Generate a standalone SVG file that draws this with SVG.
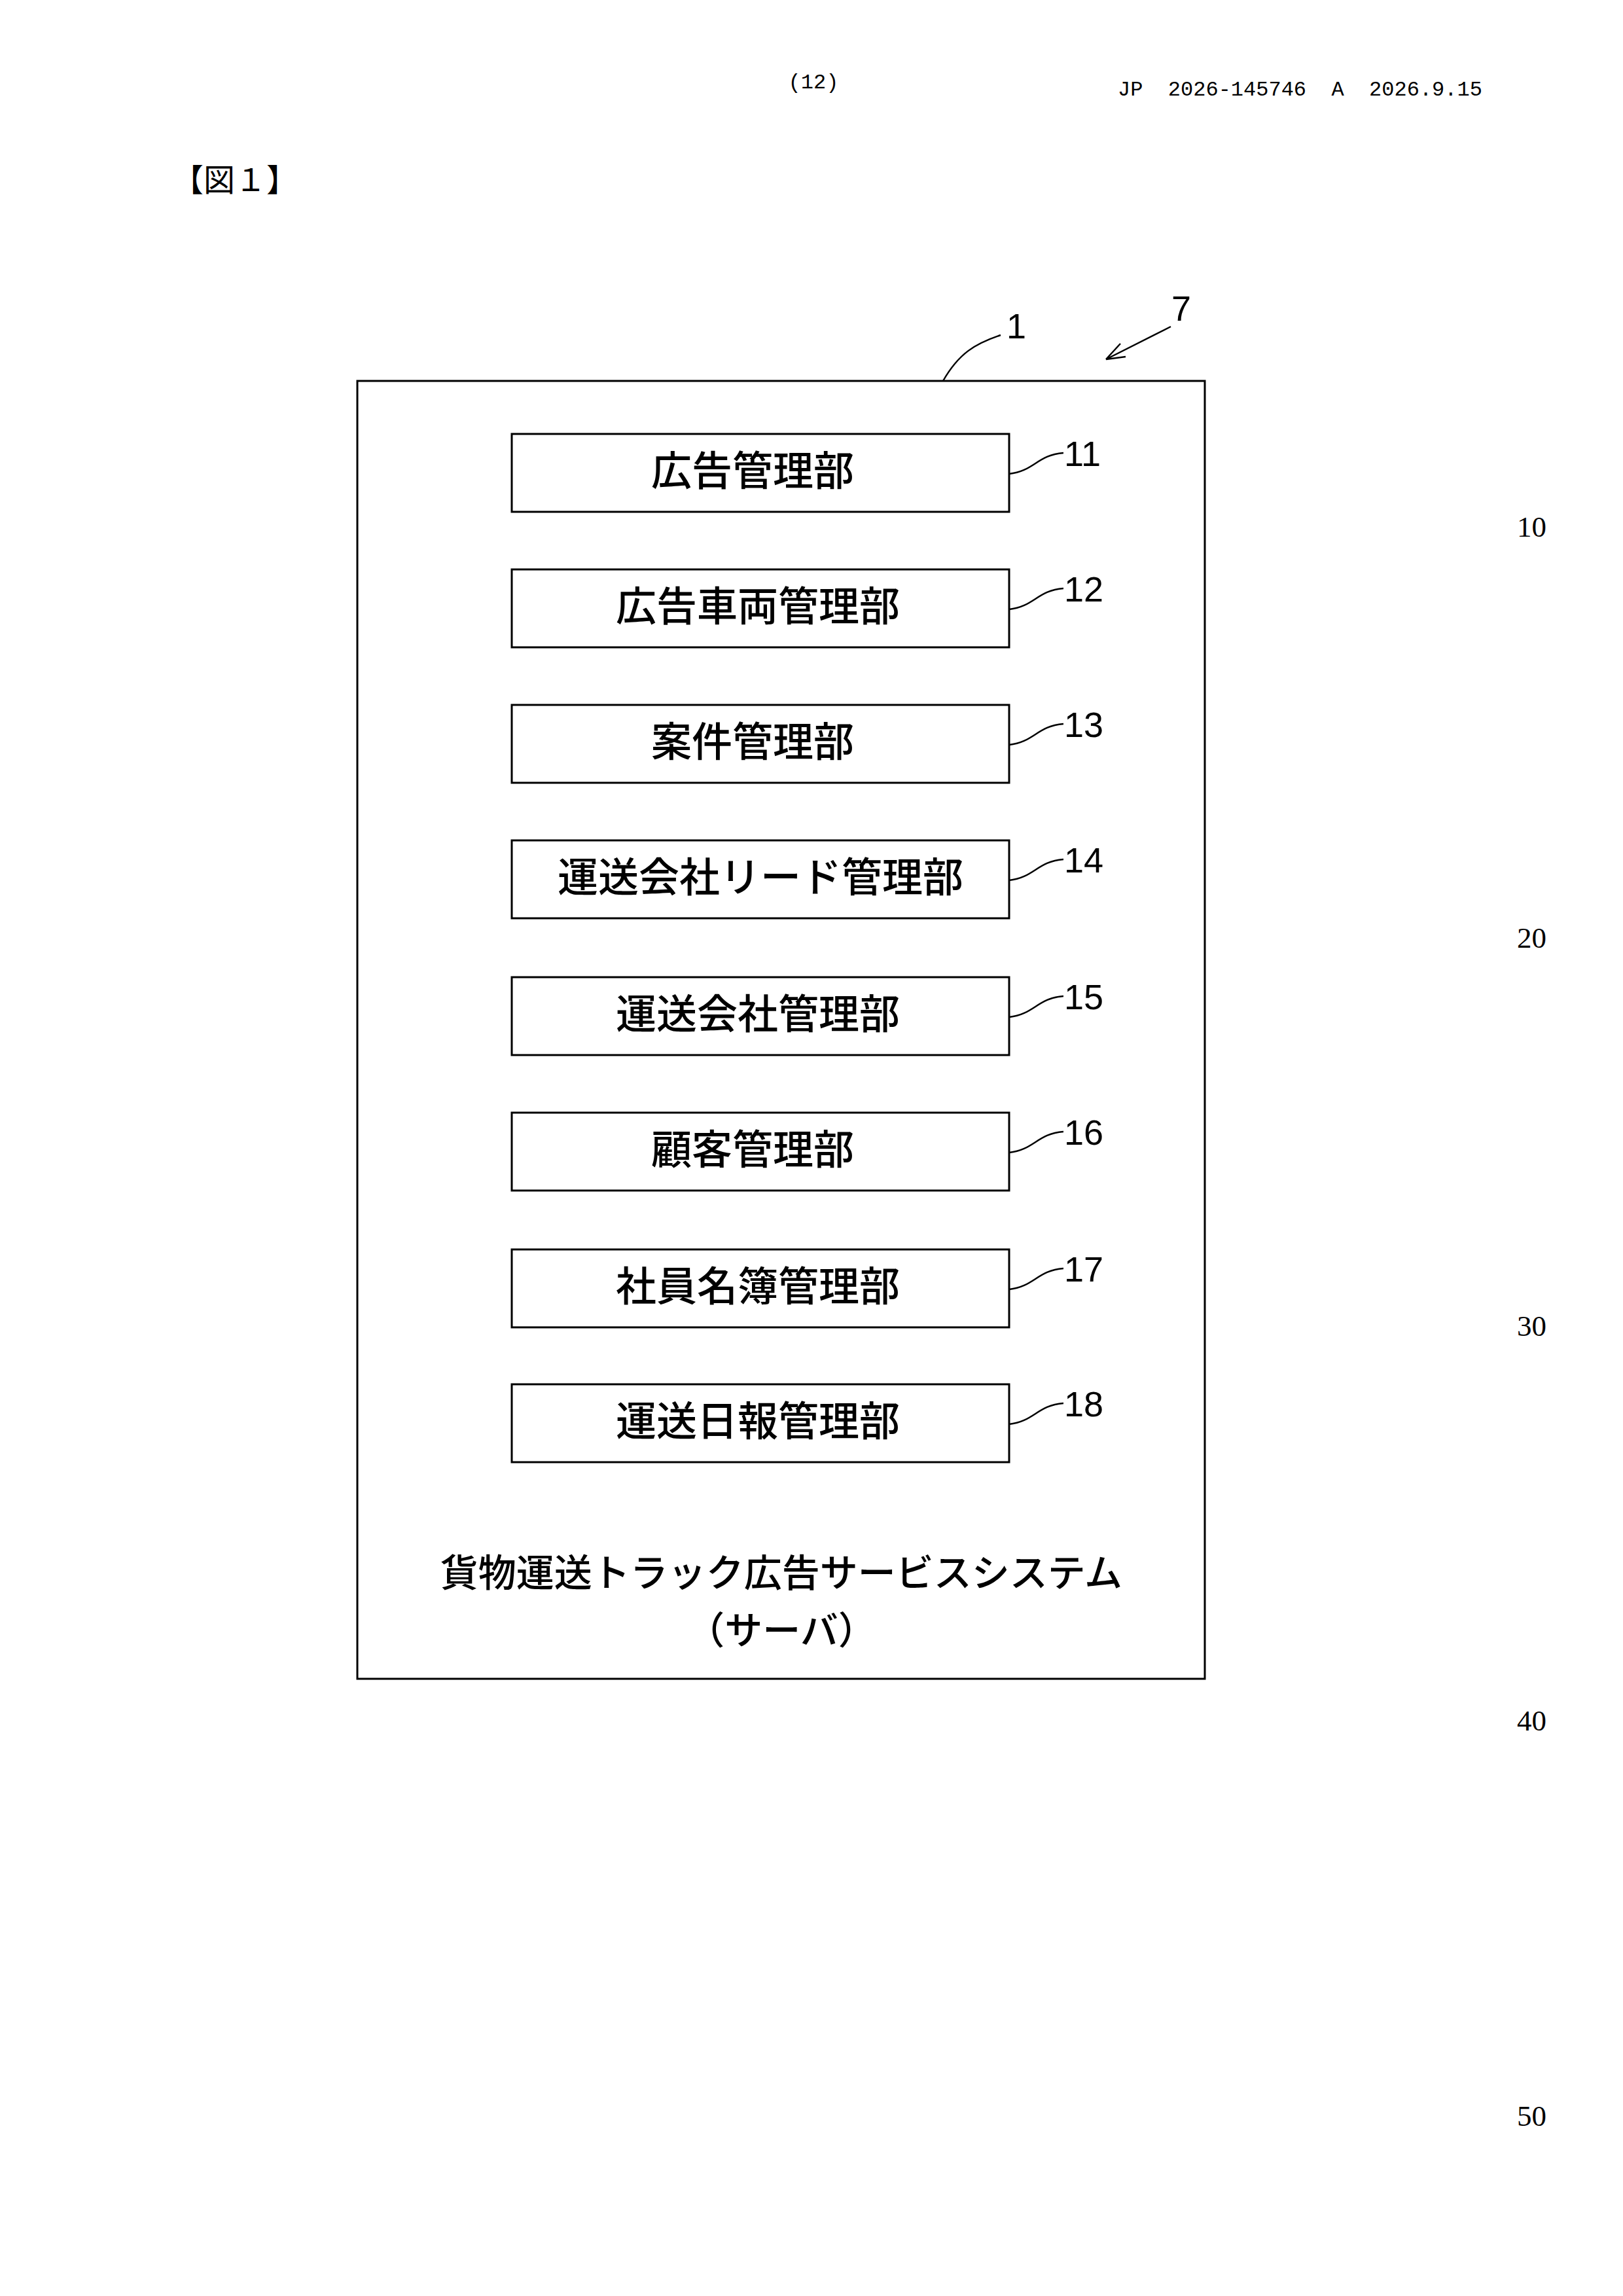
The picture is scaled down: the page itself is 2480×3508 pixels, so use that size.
<svg xmlns="http://www.w3.org/2000/svg" width="2480" height="3508" viewBox="0 0 2480 3508">
<style>
.b{fill:none;stroke:#000;stroke-width:3}
.l{fill:none;stroke:#000;stroke-width:2.5}
.t{font-family:"Noto Sans CJK JP",sans-serif;font-size:62px;font-weight:500;text-anchor:middle}
.c{font-size:58px}
.n{font-family:"Liberation Sans Narrow","Liberation Sans",sans-serif;font-size:54px}
.m{font-family:"Liberation Serif","Noto Sans CJK JP",serif;font-size:45px}
</style>
<rect width="2480" height="3508" fill="#fff"/>
<text x="1243" y="135" font-family="Liberation Mono,monospace" font-size="32" text-anchor="middle">(12)</text>
<text x="1708" y="146" font-family="Liberation Mono,monospace" font-size="32" xml:space="preserve" style="white-space:pre">JP  2026-145746  A  2026.9.15</text>
<text x="263" y="292" font-family="Liberation Serif,'Noto Sans CJK JP',serif" font-size="48">【図１】</text>
<g class="m"><text x="2318" y="820">10</text><text x="2318" y="1448">20</text><text x="2318" y="2041">30</text><text x="2318" y="2644">40</text><text x="2318" y="3248">50</text></g>
<g id="system">
<rect class="b" x="546" y="582" width="1295" height="1983"/>
<text class="t c" x="1194" y="2424">貨物運送トラック広告サービスシステム</text>
<text class="t c" x="1194" y="2512">（サーバ）</text>
</g>
<g id="n11"><rect class="b" x="782" y="663" width="760" height="119"/><text class="t" x="1150" y="742">広告管理部</text></g>
<g id="n12"><rect class="b" x="782" y="870" width="760" height="119"/><text class="t" x="1158" y="949">広告車両管理部</text></g>
<g id="n13"><rect class="b" x="782" y="1077" width="760" height="119"/><text class="t" x="1150" y="1156">案件管理部</text></g>
<g id="n14"><rect class="b" x="782" y="1284" width="760" height="119"/><text class="t" x="1162" y="1363">運送会社リード管理部</text></g>
<g id="n15"><rect class="b" x="782" y="1493" width="760" height="119"/><text class="t" x="1158" y="1572">運送会社管理部</text></g>
<g id="n16"><rect class="b" x="782" y="1700" width="760" height="119"/><text class="t" x="1150" y="1779">顧客管理部</text></g>
<g id="n17"><rect class="b" x="782" y="1909" width="760" height="119"/><text class="t" x="1158" y="1988">社員名簿管理部</text></g>
<g id="n18"><rect class="b" x="782" y="2115" width="760" height="119"/><text class="t" x="1158" y="2194">運送日報管理部</text></g>
<g id="connectors">
<path class="l" d="M1441 582 C1465 540 1490 525 1529 512"/>
<path class="l" d="M1789 499 L1690 549 M1690 549 L1712 525 M1690 549 L1720 545"/>
<path class="l" d="M1542 724 C1580 720 1585 695 1625 692"/>
<path class="l" d="M1542 931 C1580 927 1585 902 1625 899"/>
<path class="l" d="M1542 1138 C1580 1134 1585 1109 1625 1106"/>
<path class="l" d="M1542 1345 C1580 1341 1585 1316 1625 1313"/>
<path class="l" d="M1542 1554 C1580 1550 1585 1525 1625 1522"/>
<path class="l" d="M1542 1761 C1580 1757 1585 1732 1625 1729"/>
<path class="l" d="M1542 1970 C1580 1966 1585 1941 1625 1938"/>
<path class="l" d="M1542 2176 C1580 2172 1585 2147 1625 2144"/>
</g>
<g class="n">
<text x="1538" y="517">1</text><text x="1790" y="490">7</text>
<text x="1626" y="712">11</text><text x="1626" y="919">12</text><text x="1626" y="1126">13</text><text x="1626" y="1333">14</text>
<text x="1626" y="1542">15</text><text x="1626" y="1749">16</text><text x="1626" y="1958">17</text><text x="1626" y="2164">18</text>
</g>
</svg>
